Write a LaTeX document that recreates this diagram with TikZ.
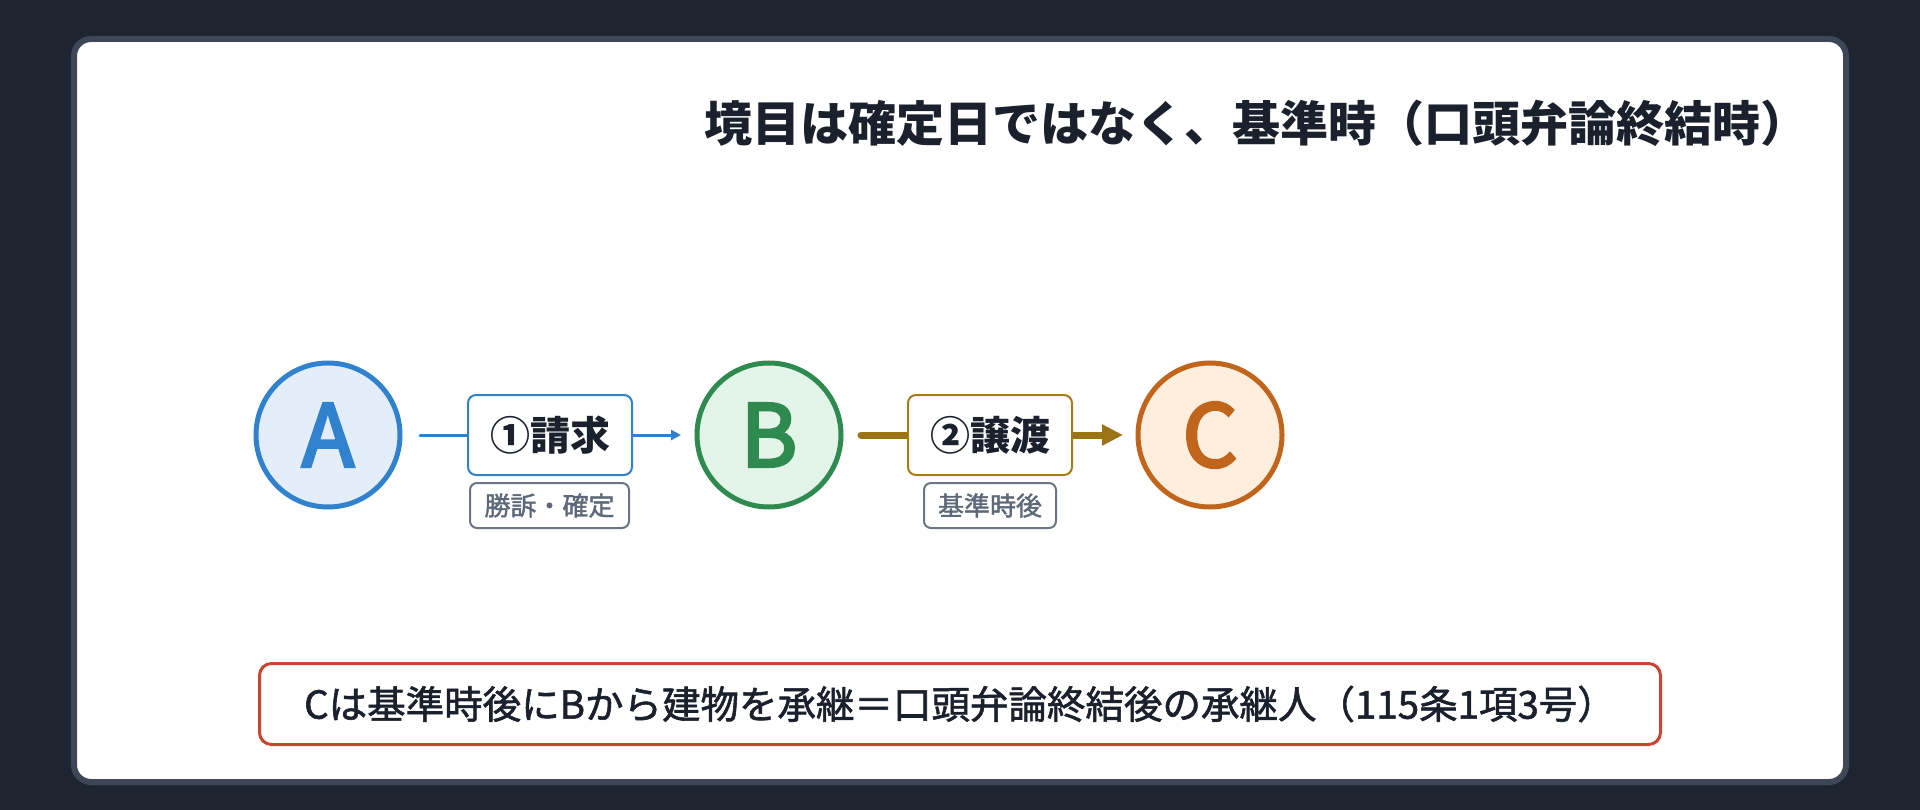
\documentclass[tikz,border=0pt]{standalone}
\usepackage{fontspec}
\setmainfont{Noto Sans CJK JP}
\newfontfamily\letterfont{Noto Sans CJK JP}[FakeBold=3.5]
\newfontfamily\medfont{Noto Sans CJK JP}[FakeBold=1.5]
\usetikzlibrary{arrows.meta}
\definecolor{bgc}{HTML}{1E2530}
\definecolor{cardedge}{HTML}{3D4757}
\definecolor{ink}{HTML}{1A202C}
\definecolor{ablue}{HTML}{3182CE}
\definecolor{afill}{HTML}{E4EEFA}
\definecolor{bgreen}{HTML}{2F8A4F}
\definecolor{bfill}{HTML}{E3F4E8}
\definecolor{corange}{HTML}{C0651B}
\definecolor{cfill}{HTML}{FDEEDD}
\definecolor{goldbox}{HTML}{A67B1E}
\definecolor{goldarrow}{HTML}{9C7418}
\definecolor{tagedge}{HTML}{6B7585}
\definecolor{tagtext}{HTML}{5D6878}
\definecolor{redc}{HTML}{CC4330}
\tikzset{
  party/.style={circle, line width=5pt, minimum size=144pt, inner sep=0pt, outer sep=0pt,
    font=\letterfont\fontsize{86}{86}\selectfont},
  stepbox/.style={rectangle, rounded corners=8pt, line width=2pt, fill=white,
    minimum width=164pt, minimum height=80pt, inner sep=0pt, outer sep=0pt,
    font=\bfseries\fontsize{40}{40}\selectfont, text=ink},
  tagbox/.style={rectangle, rounded corners=7pt, line width=2pt, draw=tagedge, fill=white,
    minimum height=45pt, inner sep=0pt, font=\medfont\fontsize{26}{26}\selectfont, text=tagtext},
  notebox/.style={rectangle, draw=redc, line width=3pt, rounded corners=12pt, fill=white,
    minimum width=1401pt, minimum height=81pt, inner sep=0pt,
    font=\medfont\fontsize{38.5}{40}\selectfont, text=ink},
}
\begin{document}
\begin{tikzpicture}[x=1pt,y=-1pt]
\useasboundingbox (0,0) rectangle (1920,810);
\fill[bgc] (0,0) rectangle (1920,810);
\draw[cardedge, line width=6pt, fill=white, rounded corners=17pt] (74,39) rectangle (1846,782);

\node[anchor=base east, inner sep=0pt, font=\bfseries\fontsize{48}{56}\selectfont, text=ink] (title) at (1809,142) {境目は確定日ではなく、基準時（口頭弁論終結時）};

\node[party, draw=ablue, fill=afill, text=ablue] (A) at (328,435) {A};
\node[party, draw=bgreen, fill=bfill, text=bgreen] (B) at (769,435) {B};
\node[party, draw=corange, fill=cfill, text=corange] (C) at (1210,435) {C};

\draw[line width=3pt, ablue, line cap=round, -{Triangle[length=10pt,width=10pt]}, shorten <=20pt, shorten >=16pt] (A) -- (B);
\draw[line width=7pt, goldarrow, line cap=round, -{Triangle[length=21pt,width=20pt]}, shorten <=20pt, shorten >=15pt] (B) -- (C);

\node[stepbox, draw=ablue] (r1) at (550,435) {①請求};
\node[stepbox, draw=goldbox] (r2) at (990,435) {②譲渡};

\node[tagbox, minimum width=159pt] (t1) at (549.5,505.5) {勝訴・確定};
\node[tagbox, minimum width=132pt] (t2) at (990,505.5) {基準時後};

\node[notebox] (note) at (960,704) {Cは基準時後にBから建物を承継＝口頭弁論終結後の承継人（115条1項3号）};
\end{tikzpicture}
\end{document}
